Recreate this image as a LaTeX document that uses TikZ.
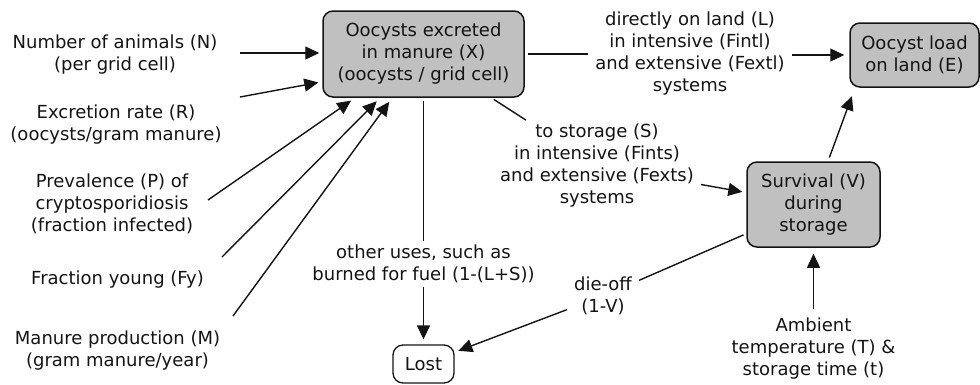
\documentclass[tikz,border=0pt]{standalone}
\usepackage{fontspec}
\setmainfont{DejaVu Sans}
\usetikzlibrary{arrows.meta,calc}
\definecolor{boxgray}{RGB}{192,192,192}
\definecolor{ink}{RGB}{20,20,20}
\begin{document}
\begin{tikzpicture}[x=1pt,y=-1pt,
  every node/.style={font=\fontsize{18}{22}\selectfont, text=ink, align=center, inner sep=0pt},
  box/.style={draw=ink, line width=1.5pt, rounded corners=10pt, fill=boxgray},
  lbl/.style={inner xsep=7pt, inner ysep=4pt},
  arr/.style={draw=ink, line width=1.4pt, -{Triangle[length=14pt,width=13pt]}},
  ln/.style={draw=ink, line width=1.4pt}]
\useasboundingbox (0,0) rectangle (980,384);

% boxes
\node[box, minimum width=201pt, minimum height=86pt] (X) at (423.5,54) {Oocysts excreted\\in manure (X)\\(oocysts / grid cell)};
\node[box, minimum width=129pt, minimum height=64pt] (E) at (914.5,55) {Oocyst load\\on land (E)};
\node[box, minimum width=133pt, minimum height=85pt] (V) at (813.5,204.5) {Survival (V)\\during\\storage};
\node[box, fill=white, line width=1.3pt, minimum width=61pt, minimum height=38pt] (Lost) at (423.5,364) {Lost};

% input texts
\node (N) at (115,54.5) {Number of animals (N)\\(per grid cell)};
\node (R) at (116,124.5) {Excretion rate (R)\\(oocysts/gram manure)};
\node (P) at (112,204) {Prevalence (P) of\\cryptosporidiosis\\(fraction infected)};
\node (Fy) at (117.5,280) {Fraction young (Fy)};
\node (M) at (117.5,351) {Manure production (M)\\(gram manure/year)};
\node (T) at (813.5,348.5) {Ambient\\temperature (T) \&\\storage time (t)};

% edge labels
\node[lbl] (L) at (690,54) {directly on land (L)\\in intensive (Fintl)\\and extensive (Fextl)\\systems};
\node[lbl] (S) at (597,166) {to storage (S)\\in intensive (Fints)\\and extensive (Fexts)\\systems};
\node[lbl] (O) at (423.5,264) {other uses, such as\\burned for fuel (1-(L+S))};
\node[lbl] (D) at (603,296) {die-off\\(1-V)};

% start points of input arrows
\coordinate (nS) at (240,53);
\coordinate (rS) at (240,97);
\coordinate (pS) at (208,200);
\coordinate (fyS) at (222,257);
\coordinate (mS) at (233,316);

% input arrows
\draw[arr, shorten >=3pt] (nS) -- (X.west |- nS);
\draw[arr, shorten >=4pt] (rS) -- ($(X.south west)+(0,-16)$);
\draw[arr, shorten >=5pt] (pS) -- ($(X.south west)+(33,0)$);
\draw[arr, shorten >=5pt] (fyS) -- ($(X.south west)+(58,0)$);
\draw[arr, shorten >=5pt] (mS) -- ($(X.south west)+(70,0)$);

% flows
\draw[ln, shorten <=3pt] (X) -- (L);
\draw[arr, shorten >=5pt] (L.east |- E) -- (E);
\draw[ln, shorten <=3pt] (X) -- (S);
\draw[arr, shorten >=4pt] (S) -- (V);
\draw[ln, shorten <=3pt] (X) -- (O);
\draw[arr, shorten >=5pt] (O) -- (Lost);
\draw[ln, shorten <=3pt] (V) -- (D);
\draw[arr, shorten >=4pt] (D) -- (Lost);
\draw[arr, shorten <=9pt, shorten >=6pt] (T.north) -- (V.south);
\draw[arr, shorten <=4pt, shorten >=9pt] ($(V.north)+(14.5,0)$) -- ($(E.south)+(-59.5,0)$);
\end{tikzpicture}
\end{document}
